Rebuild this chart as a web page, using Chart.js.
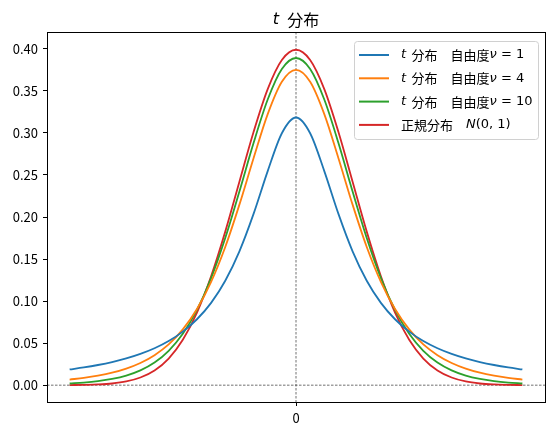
<!DOCTYPE html>
<html>
<head>
<meta charset="utf-8">
<script src="https://cdn.jsdelivr.net/npm/chart.js@4.4.0/dist/chart.umd.min.js"></script>
<style>
body { margin: 0; background: #fff; }
#wrap { width: 553px; height: 435px; }
</style>
</head>
<body>
<div id="wrap"><canvas id="myChart" width="553" height="435"></canvas></div>
<script>
// values (x from -4 to 4)
const xValues = [-4, -3.75, -3.5, -3.25, -3, -2.75, -2.5, -2.25, -2, -1.75, -1.5, -1.25, -1, -0.75, -0.5, -0.25,
	0, 0.25, 0.5, 0.75, 1, 1.25, 1.5, 1.75, 2, 2.25, 2.5, 2.75, 3, 3.25, 3.5, 3.75, 4];
const tDf1 = [0.0187, 0.0211, 0.0240, 0.0275, 0.0318, 0.0372, 0.0439, 0.0525, 0.0637, 0.0784, 0.0979, 0.1242, 0.1592, 0.2037, 0.2546, 0.2996,
	0.3183, 0.2996, 0.2546, 0.2037, 0.1592, 0.1242, 0.0979, 0.0784, 0.0637, 0.0525, 0.0439, 0.0372, 0.0318, 0.0275, 0.0240, 0.0211, 0.0187];
const tDf4 = [0.0067, 0.0087, 0.0113, 0.0148, 0.0197, 0.0264, 0.0357, 0.0485, 0.0663, 0.0905, 0.1229, 0.1644, 0.2147, 0.2699, 0.3223, 0.3608,
	0.3750, 0.3608, 0.3223, 0.2699, 0.2147, 0.1644, 0.1229, 0.0905, 0.0663, 0.0485, 0.0357, 0.0264, 0.0197, 0.0148, 0.0113, 0.0087, 0.0067];
const tDf10 = [0.0020, 0.0031, 0.0048, 0.0074, 0.0114, 0.0176, 0.0269, 0.0409, 0.0611, 0.0895, 0.1274, 0.1751, 0.2304, 0.2880, 0.3397, 0.3760,
	0.3891, 0.3760, 0.3397, 0.2880, 0.2304, 0.1751, 0.1274, 0.0895, 0.0611, 0.0409, 0.0269, 0.0176, 0.0114, 0.0074, 0.0048, 0.0031, 0.0020];
const normal01 = [0.0001, 0.0004, 0.0009, 0.0020, 0.0044, 0.0091, 0.0175, 0.0317, 0.0540, 0.0863, 0.1295, 0.1826, 0.2420, 0.3011, 0.3521, 0.3867,
	0.3989, 0.3867, 0.3521, 0.3011, 0.2420, 0.1826, 0.1295, 0.0863, 0.0540, 0.0317, 0.0175, 0.0091, 0.0044, 0.0020, 0.0009, 0.0004, 0.0001];

const yTicks = [0, 0.05, 0.10, 0.15, 0.20, 0.25, 0.30, 0.35, 0.40];
const xTicks = [0];

const colors = ['#1f77b4', '#ff7f0e', '#2ca02c', '#d62728'];
// legend labels, split into plain / italic (math) parts
const legendLabels = [
	[['t', true], [' \u2009分布\u2002\u2002自由度', false], ['ν', true], [' = 1', false]],
	[['t', true], [' \u2009分布\u2002\u2002自由度', false], ['ν', true], [' = 4', false]],
	[['t', true], [' \u2009分布\u2002\u2002自由度', false], ['ν', true], [' = 10', false]],
	[['正規分布\u2002\u2002', false], ['N', true], ['(0, 1)', false]]
];
const titleParts = [['t', true], ['\u2002分布', false]];

const CJK = '"Noto Sans CJK JP", "Noto Sans", sans-serif';
const MATH = '"DejaVu Sans", sans-serif';

function toPoints(ys) {
	return xValues.map((x, i) => ({ x: x, y: ys[i] }));
}

function fontFor(part, size) {
	if (part[1]) return 'italic ' + size + 'px ' + MATH;
	if (!/[\u3000-\u9fff]/.test(part[0])) return size + 'px ' + MATH;
	return size + 'px ' + CJK;
}

function drawParts(ctx, parts, x, y, size, center) {
	let total = 0;
	parts.forEach(p => { ctx.font = fontFor(p, size); total += ctx.measureText(p[0]).width; });
	let cx = center ? x - total / 2 : x;
	ctx.textAlign = 'left';
	ctx.textBaseline = 'middle';
	ctx.fillStyle = '#000';
	parts.forEach(p => {
		ctx.font = fontFor(p, size);
		ctx.fillText(p[0], cx, y);
		cx += ctx.measureText(p[0]).width;
	});
}

const extras = {
	id: 'extras',
	beforeDatasetsDraw(chart) {
		const ctx = chart.ctx;
		const a = chart.chartArea;
		const x0 = chart.scales.x.getPixelForValue(0);
		const y0 = chart.scales.y.getPixelForValue(0);
		ctx.save();
		ctx.strokeStyle = '#333';
		ctx.lineWidth = 0.7;
		ctx.setLineDash([2.5, 1.5]);
		ctx.beginPath();
		ctx.moveTo(x0, a.top); ctx.lineTo(x0, a.bottom);
		ctx.moveTo(a.left, y0); ctx.lineTo(a.right, y0);
		ctx.stroke();
		ctx.restore();
	},
	afterDraw(chart) {
		const ctx = chart.ctx;
		const a = chart.chartArea;
		ctx.save();
		ctx.strokeStyle = '#000';
		ctx.lineWidth = 1;
		ctx.strokeRect(Math.round(a.left) + 0.5, Math.round(a.top) + 0.5,
			Math.round(a.right - a.left), Math.round(a.bottom - a.top));

		// title
		drawParts(ctx, titleParts, (a.left + a.right) / 2, 20, 16, true);

		// legend
		const bx = 354, by = 41, bw = 184, bh = 98;
		ctx.fillStyle = 'rgba(255,255,255,0.8)';
		ctx.strokeStyle = '#d0d0d0';
		ctx.lineWidth = 1;
		ctx.beginPath();
		ctx.roundRect(bx + 0.5, by + 0.5, bw, bh, 3);
		ctx.fill();
		ctx.stroke();
		legendLabels.forEach((lab, i) => {
			const ry = 55 + i * 23.3;
			ctx.strokeStyle = colors[i];
			ctx.lineWidth = 2;
			ctx.beginPath();
			ctx.moveTo(359, ry); ctx.lineTo(389, ry);
			ctx.stroke();
			drawParts(ctx, lab, 401, ry, 13, false);
		});
		ctx.restore();
	}
};

const series = [tDf1, tDf4, tDf10, normal01];
const ctx = document.getElementById('myChart').getContext('2d');
const myChart = new Chart(ctx, {
	type: 'line',
	data: {
		datasets: series.map((ys, i) => ({
			data: toPoints(ys),
			borderColor: colors[i],
			borderWidth: 1.8,
			pointRadius: 0,
			fill: false,
			cubicInterpolationMode: 'monotone'
		}))
	},
	options: {
		responsive: false,
		animation: false,
		events: [],
		layout: { padding: { top: 32, right: 8, left: 0, bottom: 0 } },
		plugins: { legend: { display: false }, title: { display: false }, tooltip: { enabled: false } },
		scales: {
			x: {
				type: 'linear',
				min: -4.4,
				max: 4.4,
				afterBuildTicks: axis => { axis.ticks = xTicks.map(v => ({ value: v })); },
				afterFit: axis => { axis.height = 33; },
				grid: { display: true, drawOnChartArea: false, drawTicks: true, tickLength: 4, color: '#000' },
				border: { display: false },
				ticks: { color: '#000', padding: 4, maxRotation: 0, font: { family: CJK, size: 13 }, callback: v => String(v) }
			},
			y: {
				type: 'linear',
				min: -0.02,
				max: 0.42,
				afterBuildTicks: axis => { axis.ticks = yTicks.map(v => ({ value: v })); },
				afterFit: axis => { axis.width = 47; },
				grid: { display: true, drawOnChartArea: false, drawTicks: true, tickLength: 4, color: '#000' },
				border: { display: false },
				ticks: { color: '#000', padding: 5, font: { family: CJK, size: 13 }, callback: v => v.toFixed(2) }
			}
		}
	},
	plugins: [extras]
});
</script>
</body>
</html>
